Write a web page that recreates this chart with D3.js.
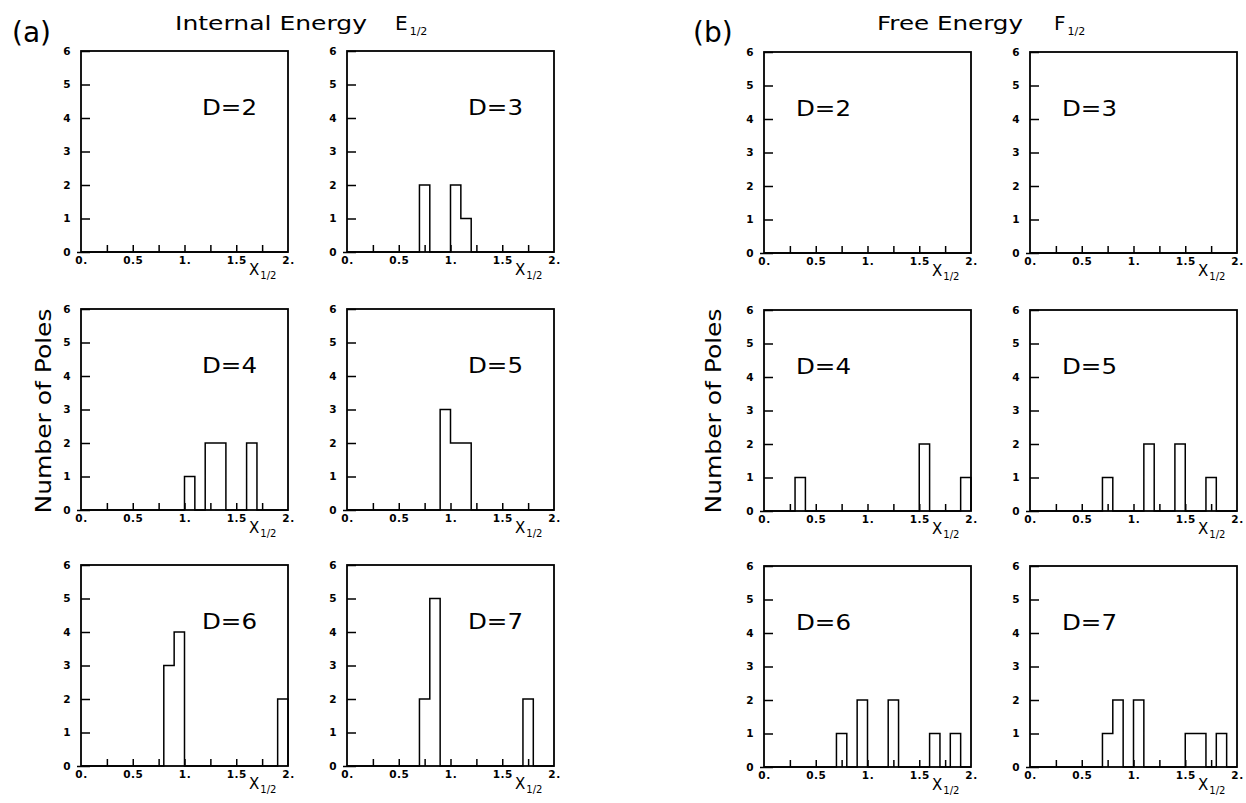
<!DOCTYPE html>
<html>
<head>
<meta charset="utf-8">
<script src="https://cdn.jsdelivr.net/npm/d3@7"></script>
<style>
  html, body { margin: 0; padding: 0; background: #fff; }
  svg { display: block; }
</style>
</head>
<body>
<script>
// ---- data ----
const binEdges = [0.0, 0.1, 0.2, 0.3, 0.4, 0.5, 0.6, 0.7, 0.8, 0.9, 1.0,
                  1.1, 1.2, 1.3, 1.4, 1.5, 1.6, 1.7, 1.8, 1.9, 2.0];
const xTickValues = [0, 0.5, 1, 1.5, 2];
const xTickLabels = ["0.", "0.5", "1.", "1.5", "2."];
const xMinorTicks = [0.25, 0.5, 0.75, 1.0, 1.25, 1.5, 1.75];
const yTickValues = [0, 1, 2, 3, 4, 5, 6];
const dimensions = ["D=2", "D=3", "D=4", "D=5", "D=6", "D=7"];

// counts per 0.1-wide bin, 0.0 .. 2.0  (Internal Energy E1/2)
const internalD2 = [0,0,0,0,0,0,0,0,0,0,0,0,0,0,0,0,0,0,0,0];
const internalD3 = [0,0,0,0,0,0,0,2,0,0,2,1,0,0,0,0,0,0,0,0];
const internalD4 = [0,0,0,0,0,0,0,0,0,0,1,0,2,2,0,0,2,0,0,0];
const internalD5 = [0,0,0,0,0,0,0,0,0,3,2,2,0,0,0,0,0,0,0,0];
const internalD6 = [0,0,0,0,0,0,0,0,3,4,0,0,0,0,0,0,0,0,0,2];
const internalD7 = [0,0,0,0,0,0,0,2,5,0,0,0,0,0,0,0,0,2,0,0];

// Free Energy F1/2
const freeD2 = [0,0,0,0,0,0,0,0,0,0,0,0,0,0,0,0,0,0,0,0];
const freeD3 = [0,0,0,0,0,0,0,0,0,0,0,0,0,0,0,0,0,0,0,0];
const freeD4 = [0,0,0,1,0,0,0,0,0,0,0,0,0,0,0,2,0,0,0,1];
const freeD5 = [0,0,0,0,0,0,0,1,0,0,0,2,0,0,2,0,0,1,0,0];
const freeD6 = [0,0,0,0,0,0,0,1,0,2,0,0,2,0,0,0,1,0,1,0];
const freeD7 = [0,0,0,0,0,0,0,1,2,0,2,0,0,0,0,1,1,0,1,0];

const internalSeries = [internalD2, internalD3, internalD4, internalD5, internalD6, internalD7];
const freeSeries = [freeD2, freeD3, freeD4, freeD5, freeD6, freeD7];

// ---- layout ----
const W = 1246, H = 803;
const PW = 207, PH = 201;
const FONT = '"DejaVu Sans", sans-serif';

const svg = d3.select("body").append("svg").attr("width", W).attr("height", H);

const styleTickText = a => a.selectAll("text")
  .style("font-family", FONT).style("font-weight", "bold")
  .style("font-size", "10.5px").style("letter-spacing", "0.5px").style("fill", "#000");

const groups = [
  { label: "(a)", labelX: 12, title: "Internal Energy", titleX: 175, titleLen: 192, sym: "E", symX: 395,
    cols: [81, 347], rows: [51, 309, 565], series: internalSeries, dOffset: 121, yLabelX: 51 },
  { label: "(b)", labelX: 693, title: "Free Energy", titleX: 877, titleLen: 146, sym: "F", symX: 1054,
    cols: [764, 1030], rows: [52, 310, 566], series: freeSeries, dOffset: 32, yLabelX: 721 }
];

groups.forEach(g => {
  svg.append("text").attr("x", g.labelX).attr("y", 42)
    .attr("font-family", FONT).attr("font-size", 28).text(g.label);
  svg.append("text").attr("x", g.titleX).attr("y", 30)
    .attr("font-family", FONT).attr("font-size", 20)
    .attr("textLength", g.titleLen).attr("lengthAdjust", "spacingAndGlyphs").text(g.title);
  const s = svg.append("text").attr("x", g.symX).attr("y", 30)
    .attr("font-family", FONT).attr("font-size", 20);
  s.append("tspan").text(g.sym);
  s.append("tspan").attr("font-size", 11).attr("dy", 5).attr("dx", 2).text("1/2");

  svg.append("text")
    .attr("transform", `translate(${g.yLabelX},${411}) rotate(-90)`)
    .attr("text-anchor", "middle")
    .attr("font-family", FONT).attr("font-size", 22)
    .attr("textLength", 205).attr("lengthAdjust", "spacingAndGlyphs")
    .text("Number of Poles");

  g.series.forEach((counts, k) => {
    const left = g.cols[k % 2], top = g.rows[Math.floor(k / 2)];
    const x = d3.scaleLinear().domain([0, 2]).range([0, PW]);
    const y = d3.scaleLinear().domain([0, 6]).range([PH, 0]);
    const p = svg.append("g").attr("transform", `translate(${left},${top})`);

    // minor inward ticks on x axis
    p.append("g").attr("transform", `translate(0,${PH})`)
      .call(d3.axisBottom(x).tickValues(xMinorTicks).tickSize(-7).tickFormat(""))
      .call(a => a.select(".domain").remove())
      .call(a => a.selectAll("line").attr("stroke", "#000").attr("stroke-width", 1.5));
    // x labels
    p.append("g").attr("transform", `translate(0,${PH})`)
      .call(d3.axisBottom(x).tickValues(xTickValues).tickSize(0).tickPadding(5)
        .tickFormat((d, i) => xTickLabels[i]))
      .call(a => a.select(".domain").remove())
      .call(styleTickText);
    // y axis ticks + labels
    p.append("g")
      .call(d3.axisLeft(y).tickValues(yTickValues).tickSize(-9).tickPadding(10).tickFormat(d3.format("d")))
      .call(a => a.select(".domain").remove())
      .call(a => a.selectAll("line").attr("stroke", "#000").attr("stroke-width", 1.5))
      .call(styleTickText);
    // small outward tick at zero
    p.append("g")
      .call(d3.axisLeft(y).tickValues([0]).tickSize(4).tickFormat(""))
      .call(a => a.select(".domain").remove())
      .call(a => a.selectAll("line").attr("stroke", "#000").attr("stroke-width", 1.5));

    // histogram outline (step)
    const pts = binEdges.slice(0, 20).map((e, i) => [e, counts[i]]);
    pts.push([binEdges[20], counts[19]]);
    pts.push([binEdges[20], 0]);
    const line = d3.line().x(d => x(d[0])).y(d => y(d[1])).curve(d3.curveStepAfter);
    p.append("path").attr("d", line(pts)).attr("fill", "none")
      .attr("stroke", "#000").attr("stroke-width", 1.5);

    // frame
    p.append("rect").attr("x", 0).attr("y", 0).attr("width", PW).attr("height", PH)
      .attr("fill", "none").attr("stroke", "#000").attr("stroke-width", 1.8);

    // D label
    p.append("text").attr("x", g.dOffset).attr("y", 64)
      .attr("font-family", FONT).attr("font-size", 21)
      .attr("textLength", 55).attr("lengthAdjust", "spacingAndGlyphs")
      .text(dimensions[k]);

    // X_1/2 axis title
    const xt = p.append("text").attr("x", 168).attr("y", PH + 23)
      .attr("font-family", FONT).attr("font-size", 15);
    xt.append("tspan").text("X");
    xt.append("tspan").attr("font-size", 10).attr("dy", 4).attr("dx", 1).text("1/2");
  });
});
</script>
</body>
</html>
